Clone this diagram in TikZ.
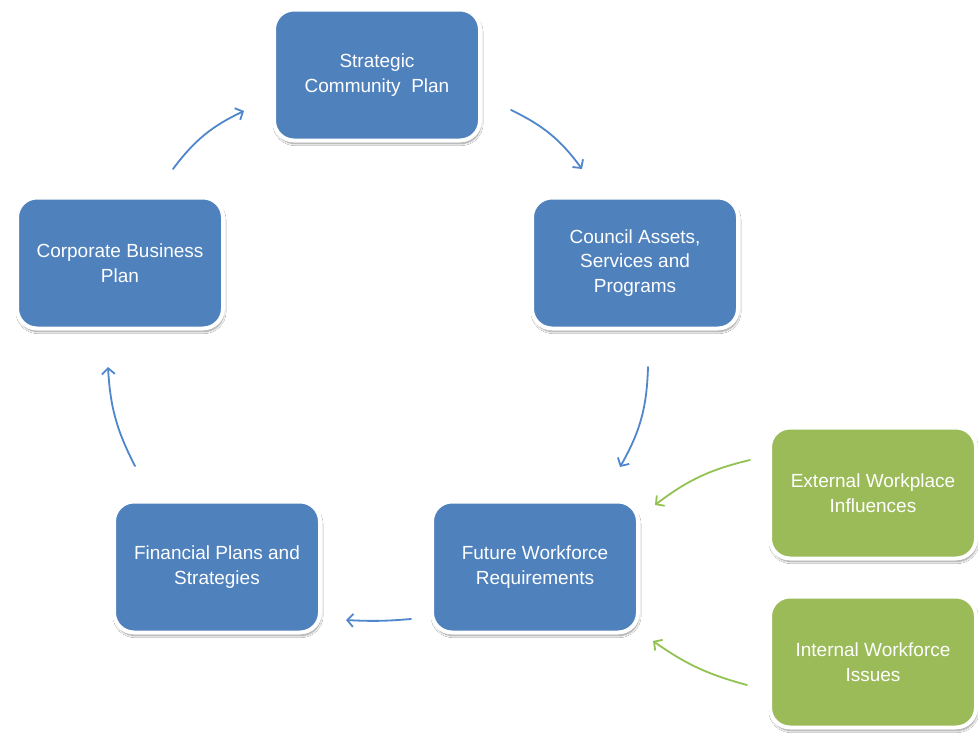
\documentclass[tikz,border=0pt]{standalone}
\usepackage{fontspec}
\setmainfont{Liberation Sans}
\usetikzlibrary{arrows.meta,shadows.blur}
\definecolor{boxblue}{HTML}{4F81BD}
\definecolor{boxgreen}{HTML}{9BBB59}
\definecolor{arrblue}{HTML}{4F86CC}
\definecolor{arrgreen}{HTML}{92C252}
\tikzset{
  card/.style={rounded corners=20pt, draw=white, line width=4pt,
    minimum width=206pt, minimum height=131pt, inner sep=0pt,
    align=center, text=white, font=\fontsize{19}{24.5}\selectfont,
    blur shadow={shadow xshift=1pt, shadow yshift=-3pt, shadow opacity=45, shadow blur steps=8}},
  bluecard/.style={card, fill=boxblue},
  greencard/.style={card, fill=boxgreen},
  flow/.style={draw=arrblue, line width=1.8pt, line cap=round,
    -{Straight Barb[length=6pt, width=13pt, line width=1.8pt]}},
  gflow/.style={flow, draw=arrgreen}
}
\begin{document}
\begin{tikzpicture}[x=1pt, y=-1pt]
\useasboundingbox[fill=white] (0,0) rectangle (978,736);
\node[bluecard] (scp) at (377,75) {Strategic\\Community\ \ Plan};
\node[bluecard] (cas) at (635,263) {Council Assets,\\Services and\\Programs};
\node[bluecard] (corp) at (120,263) {Corporate Business\\Plan};
\node[bluecard] (fwr) at (535,567) {Future Workforce\\Requirements};
\node[bluecard] (fin) at (217,567) {Financial Plans and\\Strategies};
\node[greencard] (ext) at (873,493) {External Workplace\\Influences};
\node[greencard] (int) at (873,662) {Internal Workforce\\Issues};
% connector ends
\coordinate (a1s) at (173,169); \coordinate (a1e) at (244,111);
\coordinate (a2s) at (511,110); \coordinate (a2e) at (582,169);
\coordinate (a3s) at (648,367); \coordinate (a3e) at (620,467);
\coordinate (a4s) at (750,460); \coordinate (a4e) at (655,505);
\coordinate (a5s) at (747,685); \coordinate (a5e) at (653,641);
\coordinate (a6s) at (411,619); \coordinate (a6e) at (346,620);
\coordinate (a7s) at (135,466); \coordinate (a7e) at (108,367);
\draw[flow] (a1s) to[bend left=14] (a1e);
\draw[flow] (a2s) to[bend left=14] (a2e);
\draw[flow] (a3s) to[bend left=14] (a3e);
\draw[gflow] (a4s) to[bend right=12] (a4e);
\draw[gflow] (a5s) to[bend left=10] (a5e);
\draw[flow] (a6s) to[bend left=4] (a6e);
\draw[flow] (a7s) to[bend left=12] (a7e);
\end{tikzpicture}
\end{document}
